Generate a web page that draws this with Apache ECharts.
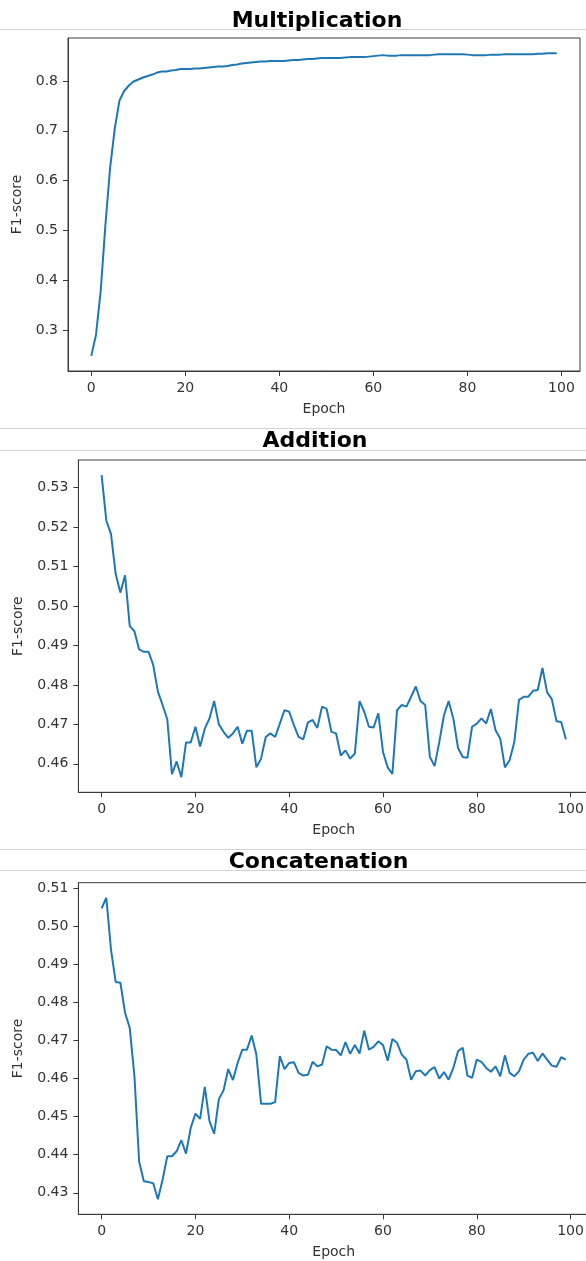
<!DOCTYPE html>
<html>
<head>
<meta charset="utf-8">
<script src="https://cdn.jsdelivr.net/npm/echarts@6/dist/echarts.min.js"></script>
<style>
html,body{margin:0;padding:0;background:#fff;overflow:hidden;width:586px;height:1261px;}
#chart{width:594px;height:1261px;}
</style>
</head>
<body>
<div id="chart"></div>
<script>
// ---- data (F1-score per epoch, epochs 0..99) ----
const multiplication = [
  0.248,0.290,0.378,0.510,0.625,0.705,0.761,0.780,0.791,0.799,
  0.803,0.807,0.810,0.813,0.817,0.819,0.819,0.821,0.822,0.824,
  0.824,0.824,0.825,0.825,0.826,0.827,0.828,0.829,0.829,0.830,
  0.832,0.833,0.835,0.836,0.837,0.838,0.839,0.839,0.840,0.840,
  0.840,0.840,0.841,0.842,0.842,0.843,0.844,0.844,0.845,0.846,
  0.846,0.846,0.846,0.846,0.847,0.848,0.848,0.848,0.848,0.849,
  0.850,0.851,0.852,0.851,0.851,0.851,0.852,0.852,0.852,0.852,
  0.852,0.852,0.852,0.853,0.854,0.854,0.854,0.854,0.854,0.854,
  0.853,0.852,0.852,0.852,0.852,0.853,0.853,0.853,0.854,0.854,
  0.854,0.854,0.854,0.854,0.854,0.855,0.855,0.856,0.856,0.856
];
const addition = [
  0.5332,0.5217,0.5183,0.5081,0.5034,0.5078,0.4949,0.4936,0.4890,0.4884,
  0.4884,0.4851,0.4783,0.4749,0.4713,0.4574,0.4606,0.4566,0.4654,0.4654,
  0.4694,0.4644,0.4689,0.4715,0.4759,0.4700,0.4681,0.4666,0.4677,0.4694,
  0.4651,0.4684,0.4684,0.4591,0.4613,0.4668,0.4677,0.4668,0.4702,0.4736,
  0.4732,0.4698,0.4668,0.4662,0.4705,0.4711,0.4691,0.4745,0.4739,0.4681,
  0.4677,0.4621,0.4634,0.4613,0.4626,0.4759,0.4732,0.4694,0.4692,0.4728,
  0.4630,0.4591,0.4574,0.4736,0.4749,0.4745,0.4770,0.4796,0.4759,0.4749,
  0.4617,0.4594,0.4655,0.4723,0.4759,0.4715,0.4640,0.4617,0.4615,0.4694,
  0.4702,0.4715,0.4702,0.4739,0.4685,0.4664,0.4591,0.4609,0.4655,0.4762,
  0.4770,0.4770,0.4785,0.4787,0.4843,0.4781,0.4764,0.4708,0.4706,0.4662
];
const concatenation = [
  0.5047,0.5075,0.4939,0.4854,0.4852,0.4773,0.4733,0.4606,0.4382,0.4330,
  0.4328,0.4325,0.4283,0.4334,0.4396,0.4396,0.4409,0.4438,0.4403,0.4470,
  0.4508,0.4494,0.4578,0.4488,0.4455,0.4546,0.4569,0.4625,0.4596,0.4641,
  0.4676,0.4676,0.4713,0.4663,0.4534,0.4534,0.4534,0.4538,0.4659,0.4625,
  0.4641,0.4643,0.4615,0.4608,0.4610,0.4644,0.4632,0.4637,0.4685,0.4676,
  0.4675,0.4661,0.4696,0.4665,0.4688,0.4666,0.4726,0.4676,0.4683,0.4698,
  0.4688,0.4647,0.4704,0.4694,0.4663,0.4650,0.4597,0.4619,0.4621,0.4608,
  0.4622,0.4630,0.4600,0.4617,0.4597,0.4628,0.4672,0.4681,0.4608,0.4602,
  0.4650,0.4644,0.4628,0.4618,0.4632,0.4606,0.4661,0.4615,0.4606,0.4619,
  0.4650,0.4665,0.4668,0.4646,0.4666,0.4650,0.4634,0.4631,0.4656,0.4650
];
const titles = ['Multiplication', 'Addition', 'Concatenation'];
const xTicks = [0, 20, 40, 60, 80, 100];
const yTicksMul = [0.3, 0.4, 0.5, 0.6, 0.7, 0.8];
const yTicksAdd = [0.46, 0.47, 0.48, 0.49, 0.50, 0.51, 0.52, 0.53];
const yTicksCat = [0.43, 0.44, 0.45, 0.46, 0.47, 0.48, 0.49, 0.50, 0.51];
const xName = 'Epoch';
const yName = 'F1-score';

// ---- layout / styling ----
const FONT = 'DejaVu Sans';
const TXT = '#333';
const AX = '#3a3a3a';
const LINE = '#1f77b4';
const panels = [
  {data: multiplication, ticks: yTicksMul, dec: 1, grid: {left: 68, top: 38, width: 512, height: 333}, nameGap: 43, titleX: 317, titleY: 21},
  {data: addition, ticks: yTicksAdd, dec: 2, grid: {left: 78.4, top: 460, width: 510.7, height: 332.3}, nameGap: 53, titleX: 315, titleY: 441.5},
  {data: concatenation, ticks: yTicksCat, dec: 2, grid: {left: 78.4, top: 882.7, width: 510.7, height: 331.6}, nameGap: 53, titleX: 318.5, titleY: 862.5}
];
const separators = [29.5, 428.5, 450.5, 849.5, 870.5];

function padRange(lo, hi) {
  const p = (hi - lo) * 0.05;
  return [lo - p, hi + p];
}

const grids = [], xAxes = [], yAxes = [], series = [], graphics = [];
separators.forEach(y => graphics.push({
  type: 'line', z: 1,
  shape: {x1: 0, y1: y, x2: 594, y2: y},
  style: {stroke: '#d4d4d4', lineWidth: 1}
}));
panels.forEach((p, i) => {
  grids.push(Object.assign({show: true, borderColor: AX, borderWidth: 1, backgroundColor: 'transparent', containLabel: false}, p.grid));
  const n = p.data.length;
  const xr = padRange(0, n - 1);
  const yr = padRange(Math.min(...p.data), Math.max(...p.data));
  xAxes.push({
    type: 'value', gridIndex: i, min: xr[0], max: xr[1], position: 'bottom',
    name: xName, nameLocation: 'middle', nameGap: 31,
    nameTextStyle: {fontFamily: FONT, fontSize: 14, color: TXT},
    axisLine: {show: true, onZero: false, lineStyle: {color: AX, width: 1}},
    axisTick: {show: true, inside: false, length: 5, lineStyle: {color: AX}, customValues: xTicks},
    axisLabel: {customValues: xTicks, fontFamily: FONT, fontSize: 14, color: TXT, margin: 10},
    splitLine: {show: false}
  });
  yAxes.push({
    type: 'value', gridIndex: i, min: yr[0], max: yr[1], position: 'left',
    name: yName, nameLocation: 'middle', nameGap: p.nameGap,
    nameTextStyle: {fontFamily: FONT, fontSize: 14, color: TXT},
    axisLine: {show: true, onZero: false, lineStyle: {color: AX, width: 1}},
    axisTick: {show: true, inside: false, length: 5, lineStyle: {color: AX}, customValues: p.ticks},
    axisLabel: {customValues: p.ticks, fontFamily: FONT, fontSize: 14, color: TXT, margin: 10,
      formatter: v => Number(v).toFixed(p.dec)},
    splitLine: {show: false}
  });
  series.push({
    type: 'line', xAxisIndex: i, yAxisIndex: i,
    data: p.data.map((v, k) => [k, v]),
    showSymbol: false, symbol: 'none',
    lineStyle: {color: LINE, width: 2},
    clip: true
  });
  graphics.push({
    type: 'text', z: 10, x: p.titleX, y: p.titleY,
    style: {text: titles[i], fontFamily: FONT, fontWeight: 'bold', fontSize: 22, fill: '#000',
      align: 'center', verticalAlign: 'middle'}
  });
});

const chart = echarts.init(document.getElementById('chart'), null, {renderer: 'canvas'});
chart.setOption({
  animation: false,
  backgroundColor: '#fff',
  grid: grids,
  xAxis: xAxes,
  yAxis: yAxes,
  series: series,
  graphic: graphics
});
</script>
</body>
</html>
